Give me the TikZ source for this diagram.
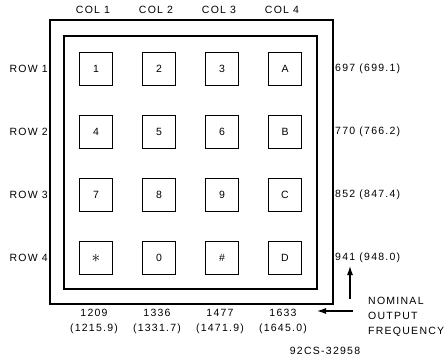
\documentclass[tikz,border=0pt]{standalone}
\usepackage{fontspec}
\setmainfont[LetterSpace=12]{Liberation Sans}
\usetikzlibrary{arrows.meta}

\begin{document}
\begin{tikzpicture}[x=1pt, y=-1pt, font=\fontsize{10.5}{15}\selectfont,
    keybox/.style={draw, line width=1.1pt, minimum size=33pt, inner sep=0pt},
    frame/.style={line width=1.2pt},
    lbl/.style={inner sep=1pt},
    arr/.style={line width=1.1pt, -{Latex[length=9pt, width=6pt]}}]
    \useasboundingbox (0,0) rectangle (446,363);
    % housing
    \draw[frame] (50,20) rectangle (333,304);
    \draw[frame] (64,36) rectangle (317,289);
    % keys
    \foreach \r/\a/\b/\c/\d in {1/1/2/3/A, 2/4/5/6/B, 3/7/8/9/C, 4/{\fontsize{16}{16}\selectfont$\ast$}/0/\#/D} {
        \foreach \col/\t in {1/\a, 2/\b, 3/\c, 4/\d} {
            \node[keybox] (k\r\col) at ({96+63*(\col-1)}, {69+63*(\r-1)}) {\t};
        }
    }
    % column and row labels
    \foreach \col in {1,...,4} {\node[lbl] (c\col) at ({93+63*(\col-1)}, 10) {COL \col};}
    \foreach \r/\f in {1/697 (699.1), 2/770 (766.2), 3/852 (847.4), 4/941 (948.0)} {
        \node[lbl, anchor=east] (w\r) at (49, {69+63*(\r-1)}) {ROW \r};
        \node[lbl, anchor=west] (e\r) at (334, {69+63*(\r-1)}) {\f};
    }
    \foreach \col/\f/\g in {1/1209/1215.9, 2/1336/1331.7, 3/1477/1471.9, 4/1633/1645.0} {
        \node[lbl, align=center] (s\col) at ({94+63*(\col-1)}, 321.5) {\f\\(\g)};
    }
    % note and arrows
    \node[lbl, align=left, anchor=north west] (note) at (367,296) {NOMINAL\\OUTPUT\\FREQUENCY};
    \coordinate (hx) at (353,311);
    \coordinate (vy) at (350,299);
    \draw[arr] (hx) -- (317,311);
    \draw[arr] (vy) -- (350,266);
    \node[lbl] (id) at (325,351) {92CS-32958};
\end{tikzpicture}
\end{document}
